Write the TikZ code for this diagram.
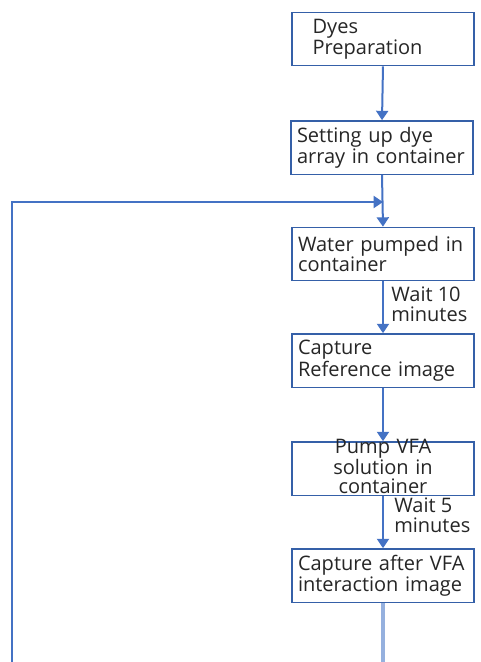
\documentclass[tikz,border=0pt]{standalone}
\usepackage{fontspec}
\setmainfont{Open Sans}
\usetikzlibrary{arrows.meta}
\definecolor{flowline}{HTML}{4472C4}
\definecolor{boxline}{HTML}{3560A8}
\definecolor{fadeline}{HTML}{95B0DE}
\definecolor{steptext}{HTML}{262626}
% keep whole words on their lines
\newcommand{\keepwords}{\hyphenpenalty=10000\relax}
\begin{document}
\begin{tikzpicture}[x=0.75pt,y=-0.75pt,
  stepfont/.style={font=\fontsize{15}{14.6}\selectfont\keepwords},
  stepbox/.style={draw=boxline, line width=1pt, fill=white,
    minimum width=136.5pt, minimum height=40pt,
    inner xsep=4.5pt, inner ysep=0pt, text width=127.5pt, align=left,
    stepfont, text=steptext},
  waitnote/.style={anchor=north west, inner sep=0pt, align=left,
    stepfont, text=steptext},
  flow/.style={draw=flowline, line width=1.5pt,
    -{Triangle[width=9pt,length=7pt]}},
  tail/.style={draw=fadeline, line width=2.8pt}
]
\useasboundingbox (0,0) rectangle (480,662);

% process steps
\node[stepbox] (dyes)   at (383,39)    {\hspace*{11pt}Dyes\\\hspace*{11pt}Preparation};
\node[stepbox] (setup)  at (382,147.5) {Setting up dye\\array in container};
\node[stepbox] (water)  at (383,254)   {Water pumped in\\container};
\node[stepbox] (refimg) at (383,360.5) {Capture\\Reference image};
\node[stepbox, align=center, text height=7.5pt, text depth=30.75pt]
               (pump)   at (383,468.5) {Pump VFA\\solution in\\container};
\node[stepbox] (vfaimg) at (383,575.5) {Capture after VFA\\interaction image};

% waiting times
\node[waitnote] (wait10) at (391,287) {Wait 10\\minutes};
\node[waitnote] (wait5)  at (394,498) {Wait 5\\minutes};

% helper points of the loop
\coordinate (merge)    at (383,202);
\coordinate (loopfoot) at (12,662);
\coordinate (tailend)  at (383,662);

% connectors
\draw[flow] (dyes.south) -- (setup.north);
\draw[flow] (setup.south) -- (water.north);
\draw[flow] (loopfoot) |- (merge);
\draw[flow] (water.south) -- (refimg.north);
\draw[flow] (refimg.south) -- (pump.north);
\draw[flow] (pump.south) -- (vfaimg.north);
\draw[tail] (vfaimg.south) -- (tailend);
\end{tikzpicture}
\end{document}
